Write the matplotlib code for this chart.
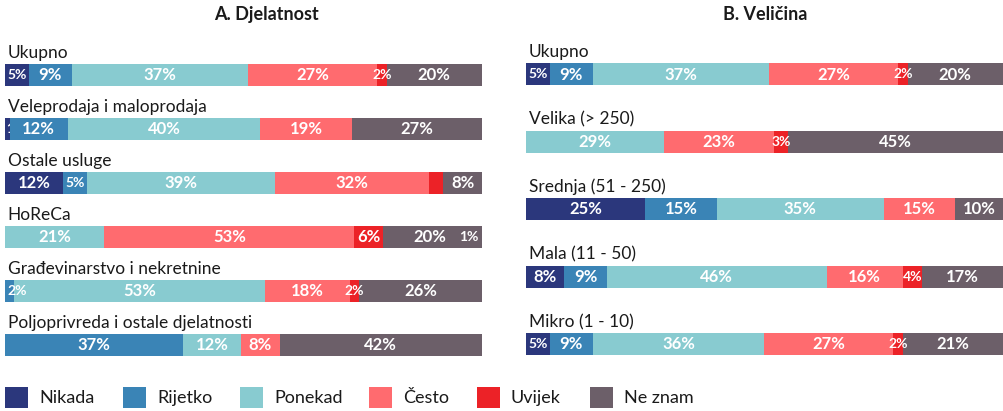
import matplotlib.pyplot as plt
from matplotlib.patches import Rectangle
from matplotlib.transforms import Bbox, TransformedBbox

plt.rcParams["font.family"] = ["Lato", "DejaVu Sans"]

W, H = 1004, 411

# response categories and colours
answers = ["Nikada", "Rijetko", "Ponekad", "Često", "Uvijek", "Ne znam"]
colors = ["#2b377c", "#3a84b6", "#88cbd0", "#ff6b6f", "#ec2227", "#6c5f69"]

# A. by activity (percent per answer, plus a trailing 1% extra where shown)
act_labels = ["Ukupno", "Veleprodaja i maloprodaja", "Ostale usluge", "HoReCa",
              "Građevinarstvo i nekretnine", "Poljoprivreda i ostale djelatnosti"]
act_nikada = [5, 1, 12, 0, 0, 0]
act_rijetko = [9, 12, 5, 0, 2, 37]
act_ponekad = [37, 40, 39, 21, 53, 12]
act_cesto = [27, 19, 32, 53, 18, 8]
act_uvijek = [2, 0, 3, 6, 2, 0]
act_neznam = [20, 27, 8, 20, 26, 42]
act_extra = [0, 0, 0, 1, 0, 0]

# B. by company size
size_labels = ["Ukupno", "Velika (> 250)", "Srednja (51 - 250)", "Mala (11 - 50)", "Mikro (1 - 10)"]
size_nikada = [5, 0, 25, 8, 5]
size_rijetko = [9, 0, 15, 9, 9]
size_ponekad = [37, 29, 35, 46, 36]
size_cesto = [27, 23, 15, 16, 27]
size_uvijek = [2, 3, 0, 4, 2]
size_neznam = [20, 45, 10, 17, 21]

# segments that carry no value label
act_hidden = {(2, 4)}


def draw_panel(ax, labels, series, spacing, extra=None, hidden=()):
    n = len(labels)
    bh = 22 / spacing
    for i, lab in enumerate(labels):
        vals = [s[i] for s in series]
        total = sum(vals) + (extra[i] if extra else 0)
        left = 0.0
        for j, v in enumerate(vals):
            if v == 0:
                continue
            w = v / total * 100
            ax.barh(i, w, left=left, height=bh, color=colors[j], linewidth=0)
            if (i, j) not in hidden:
                size = 10 if v <= 5 else 12
                x, ha = left + w / 2, "center"
                if left == 0 and v <= 2:
                    # keep tiny first-segment labels inside the bar area
                    x, ha = left + 0.6, "left"
                if v <= 1:
                    size, x = 9, left + 0.15
                t = ax.text(x, i, f"{v}%", ha=ha, va="center", color="white",
                            fontweight="bold", fontsize=size)
                if v <= 1:
                    # too narrow: cut the label at the segment edge
                    box = Bbox([[left, i - bh / 2], [left + w, i + bh / 2]])
                    t.set_clip_on(True)
                    t.set_clip_box(TransformedBbox(box, ax.transData))
            left += w
        if extra and extra[i]:
            w = extra[i] / total * 100
            ax.barh(i, w, left=left, height=bh, color=colors[-1], linewidth=0)
            ax.text(99.2, i, f"{extra[i]}%", ha="right", va="center",
                    color="white", fontweight="bold", fontsize=10)
        ax.text(0.6, i - bh / 2 - 6 / spacing, lab, ha="left", va="baseline",
                fontsize=12.5, color="#1a1a1a")
    ax.set_xlim(0, 100)
    ax.set_ylim(n - 0.5, -0.5)
    ax.axis("off")


fig = plt.figure(figsize=(W / 100, H / 100), dpi=100)


def px_axes(x0, x1, y0, y1):
    return fig.add_axes([x0 / W, 1 - y1 / H, (x1 - x0) / W, (y1 - y0) / H])


sp_a = 54
ax_a = px_axes(5, 482, 75 - sp_a / 2, 75 + sp_a * 5.5)
draw_panel(ax_a, act_labels,
           [act_nikada, act_rijetko, act_ponekad, act_cesto, act_uvijek, act_neznam],
           sp_a, extra=act_extra, hidden=act_hidden)

sp_b = 67.4
ax_b = px_axes(526, 1003, 74.5 - sp_b / 2, 74.5 + sp_b * 4.5)
draw_panel(ax_b, size_labels,
           [size_nikada, size_rijetko, size_ponekad, size_cesto, size_uvijek, size_neznam],
           sp_b)

fig.text(266 / W, 1 - 14.5 / H, "A. Djelatnost", ha="center", va="center",
         fontsize=13, fontweight="bold", color="#1a1a1a")
fig.text(765 / W, 1 - 14.5 / H, "B. Veličina", ha="center", va="center",
         fontsize=13, fontweight="bold", color="#1a1a1a")

# legend row along the bottom
leg_x = [5, 123, 240, 369, 477, 590]
for x0, name, c in zip(leg_x, answers, colors):
    fig.patches.append(Rectangle((x0 / W, 1 - 408 / H), 23 / W, 21 / H,
                                 transform=fig.transFigure, facecolor=c,
                                 edgecolor="none"))
    fig.text((x0 + 34) / W, 1 - 398 / H, name, ha="left", va="center",
             fontsize=13, color="#1a1a1a")

fig.savefig("out.png", dpi=100)
